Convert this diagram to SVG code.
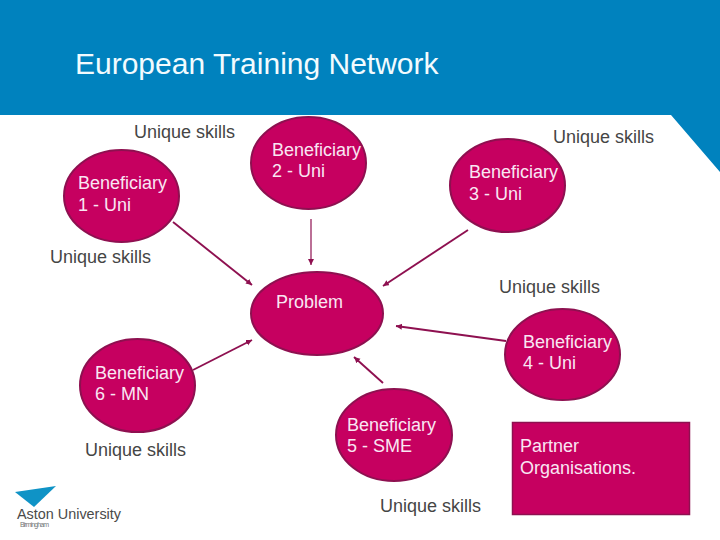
<svg xmlns="http://www.w3.org/2000/svg" width="720" height="540" viewBox="0 0 720 540">
<style>
text{font-family:"Liberation Sans",Arial,sans-serif;font-size:18px}
.s{fill:#454545}
.n{fill:#f9e6f3}
.shape{fill:#c60060;stroke:#8e1050;stroke-width:2}
.c{stroke:#8e1050;stroke-width:1.9;fill:none;marker-end:url(#a)}
</style>
<defs>
<marker id="a" markerUnits="userSpaceOnUse" markerWidth="8" markerHeight="8" refX="6" refY="3" orient="auto">
<path d="M0 0L6 3L0 6Z" fill="#8e1050"/>
</marker>
</defs>
<rect width="720" height="540" fill="#fff"/>
<path id="header" d="M0 0H720V172L671 115H0Z" fill="#0082be"/>
<text x="75" y="74" style="font-size:30px" fill="#f2fbfe">European Training Network</text>
<g id="connectors">
<path class="c" d="M173 222L252 285"/>
<path class="c" style="stroke-width:1.2" d="M311 219V265"/>
<path class="c" d="M468 230L383 286"/>
<path class="c" d="M506 341L396 326"/>
<path class="c" d="M383 383L354 357"/>
<path class="c" d="M193 370L252 340"/>
</g>
<g id="problem"><ellipse class="shape" cx="317" cy="313.5" rx="66" ry="41.5"/><text class="n" x="276" y="308">Problem</text></g>
<g id="b1"><ellipse class="shape" cx="121.5" cy="196" rx="57.5" ry="46"/><text class="n" x="78" y="189">Beneficiary</text><text class="n" x="78" y="211">1 - Uni</text></g>
<g id="b2"><ellipse class="shape" cx="308.5" cy="163" rx="57.5" ry="46"/><text class="n" x="272" y="156">Beneficiary</text><text class="n" x="272" y="177">2 - Uni</text></g>
<g id="b3"><ellipse class="shape" cx="507.5" cy="185.5" rx="57.5" ry="46.5"/><text class="n" x="469" y="178">Beneficiary</text><text class="n" x="469" y="200">3 - Uni</text></g>
<g id="b4"><ellipse class="shape" cx="562.5" cy="354.5" rx="57.5" ry="45.5"/><text class="n" x="523" y="348">Beneficiary</text><text class="n" x="523" y="369">4 - Uni</text></g>
<g id="b5"><ellipse class="shape" cx="394" cy="435" rx="58" ry="46"/><text class="n" x="347" y="431">Beneficiary</text><text class="n" x="347" y="452">5 - SME</text></g>
<g id="b6"><ellipse class="shape" cx="137.5" cy="385.5" rx="57.5" ry="46.5"/><text class="n" x="95" y="379">Beneficiary</text><text class="n" x="95" y="400">6 - MN</text></g>
<g id="partner"><rect class="shape" x="512.5" y="422.5" width="177" height="92" style="stroke-width:1.5"/><text class="n" x="520" y="452">Partner</text><text class="n" x="520" y="474">Organisations.</text></g>
<g id="labels">
<text class="s" x="134" y="138">Unique skills</text>
<text class="s" x="553" y="143">Unique skills</text>
<text class="s" x="50" y="263">Unique skills</text>
<text class="s" x="499" y="293">Unique skills</text>
<text class="s" x="85" y="456">Unique skills</text>
<text class="s" x="380" y="512">Unique skills</text>
</g>
<g id="logo">
<path d="M15 492L56 486L34 507Z" fill="#0f93c6"/>
<text x="17" y="519" style="font-size:15.5px" fill="#4a4a4a" textLength="104" lengthAdjust="spacingAndGlyphs">Aston University</text>
<text x="20" y="527" style="font-size:7px" fill="#777" textLength="29">Birmingham</text>
</g>
</svg>
